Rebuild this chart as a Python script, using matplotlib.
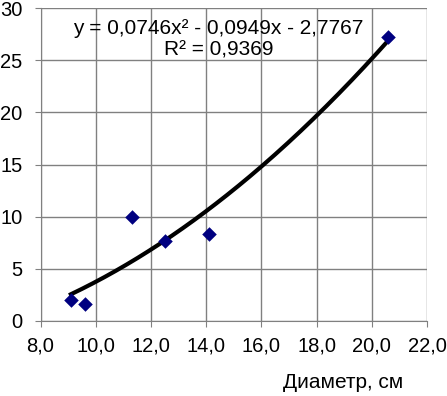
import numpy as np
import matplotlib
matplotlib.use("Agg")
import matplotlib.pyplot as plt

plt.rcParams['font.family'] = ['Liberation Sans', 'DejaVu Sans']

diameter = [9.1, 9.6, 11.3, 12.5, 14.1, 20.6]
values = [2.0, 1.6, 10.0, 7.7, 8.3, 27.2]
x_ticks = [8, 10, 12, 14, 16, 18, 20, 22]
y_ticks = [0, 5, 10, 15, 20, 25, 30]
equation = "y = 0,0746x² - 0,0949x - 2,7767"
r2_text = "R² = 0,9369"
xlabel = "Диаметр, см"

fig = plt.figure(figsize=(4.47, 3.96), dpi=100)
ax = fig.add_axes([40.5/447, 1 - 321/396, (427 - 40.5)/447, (321 - 8)/396])

coef = np.polyfit(diameter, values, 2)
xs = np.linspace(min(diameter), max(diameter), 200)
ax.plot(xs, np.polyval(coef, xs), color='black', lw=3, zorder=3)
ax.scatter(diameter, values, marker='D', s=55, color='#000080', zorder=4, linewidths=0)

ax.set_xlim(8, 22)
ax.set_ylim(0, 30)
ax.set_xticks(x_ticks)
ax.set_xticklabels([f"{v:.1f}".replace('.', ',') for v in x_ticks])
ax.set_yticks(y_ticks)
ax.grid(True, color='#808080', lw=1)
ax.set_axisbelow(True)
for s in ['top', 'right']:
    ax.spines[s].set_visible(False)
for s in ['left', 'bottom']:
    ax.spines[s].set_color('#808080')
ax.tick_params(axis='x', labelsize=14.5, length=4, color='#808080', pad=7)
ax.tick_params(axis='y', labelsize=14.5, length=4, color='#808080', pad=9)

ax.text(0.46, 0.965, equation + "\n" + r2_text, transform=ax.transAxes,
        ha='center', va='top', fontsize=15, linespacing=1.2)
fig.text(343/447, 1 - 383/396, xlabel, ha='center', va='center', fontsize=15)

fig.savefig("out.png", dpi=100)
